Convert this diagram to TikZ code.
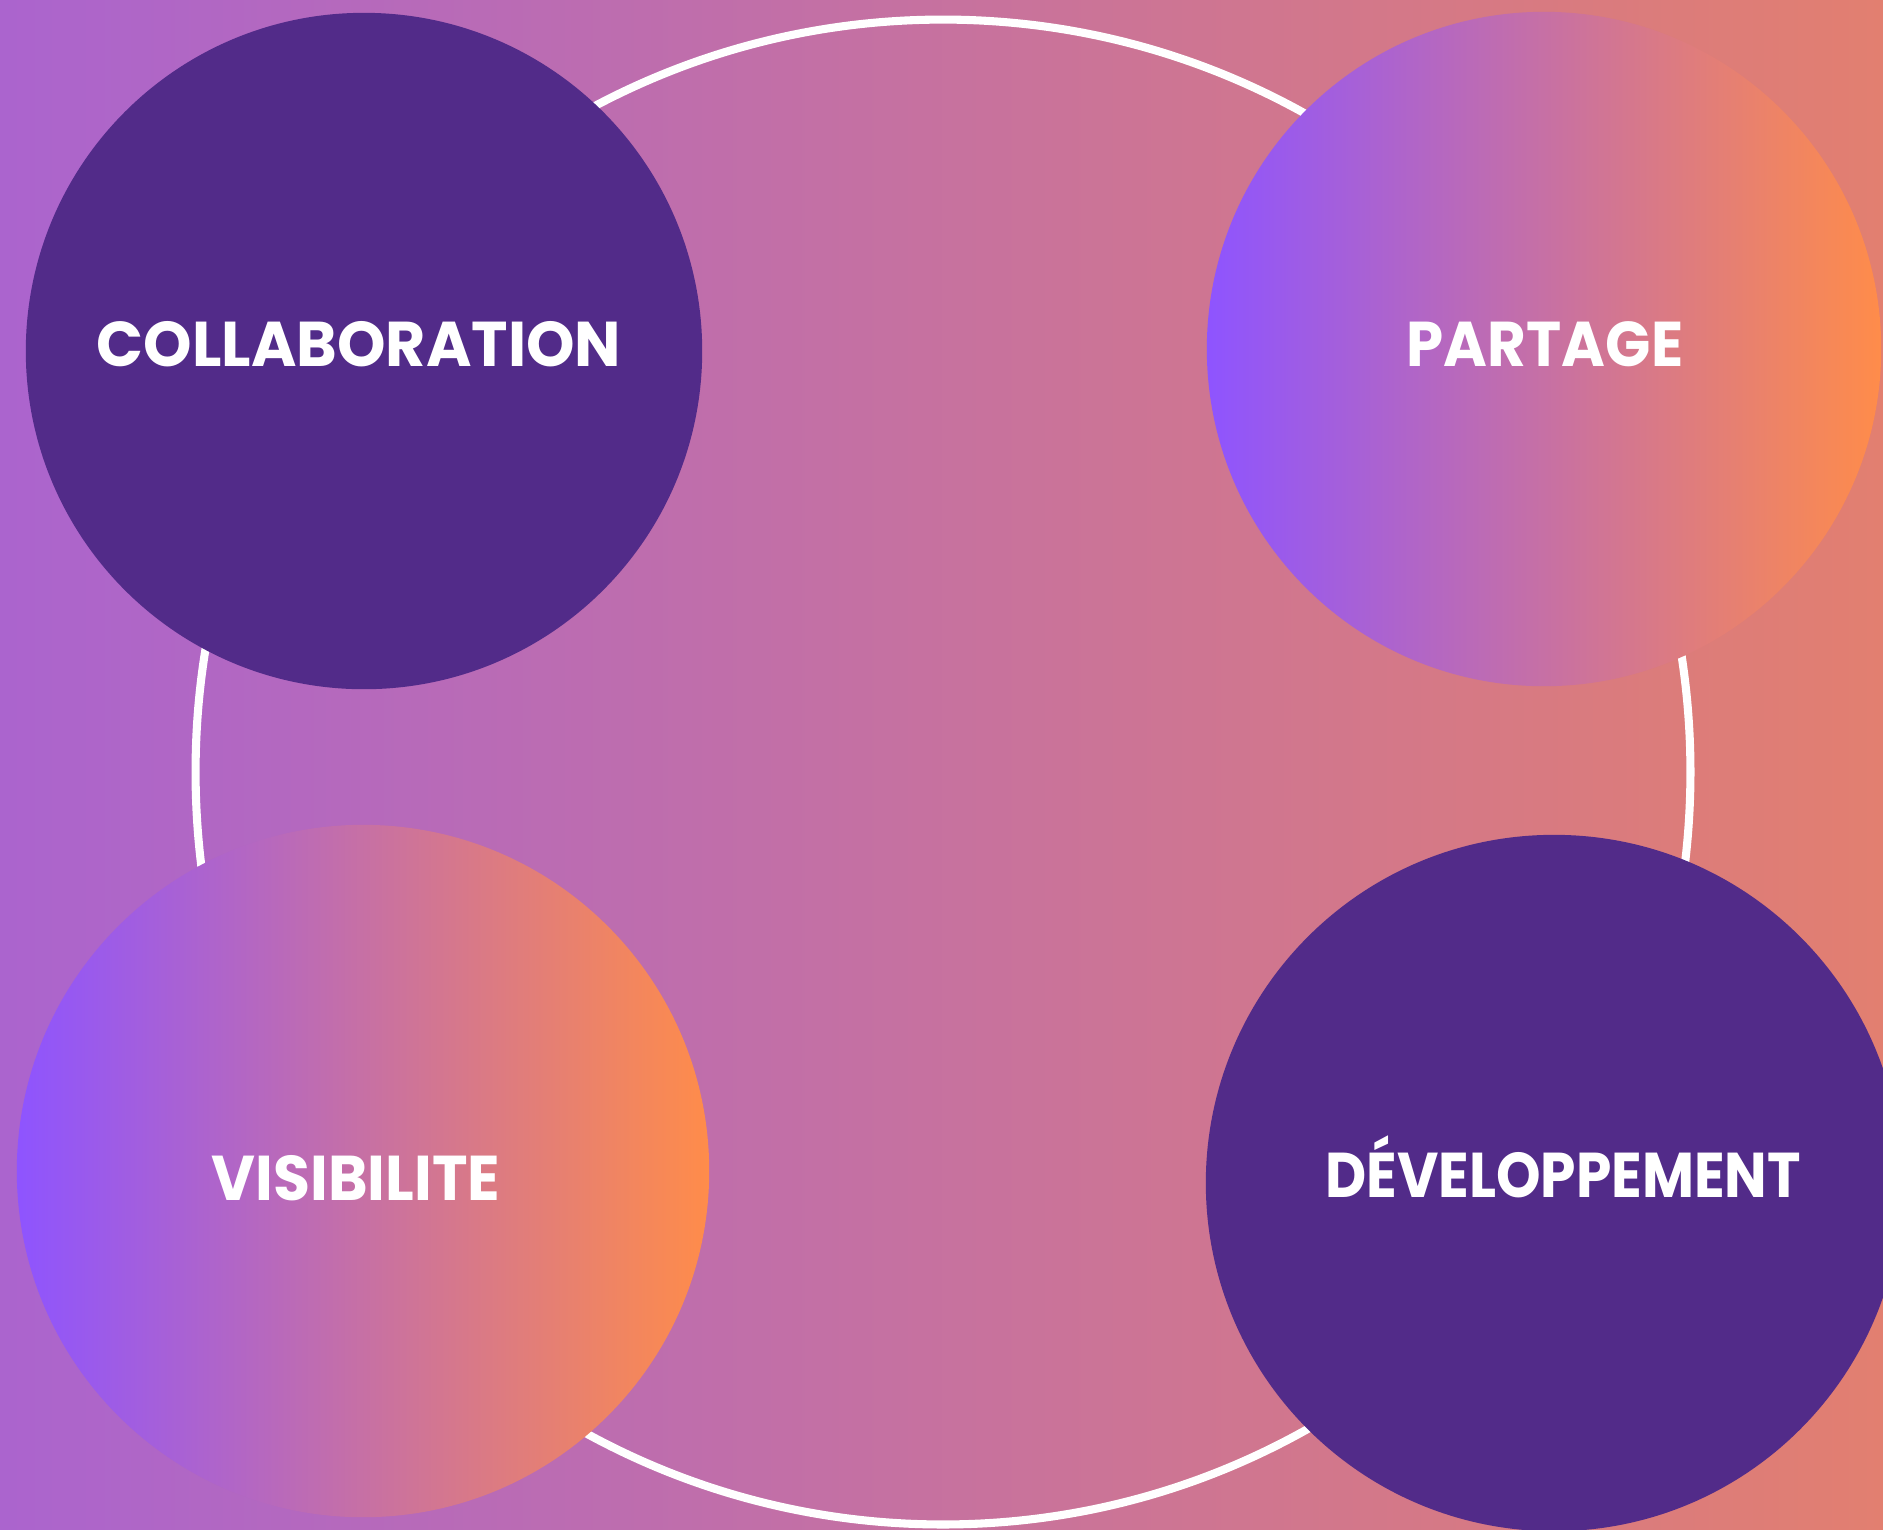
\documentclass[tikz,border=0pt]{standalone}
\usepackage{fontspec}
\setmainfont{Poppins}
\usetikzlibrary{positioning}
\definecolor{bgleft}{HTML}{AB64CE}
\definecolor{bgright}{HTML}{E27F70}
\definecolor{deep}{HTML}{522B89}
\definecolor{violet}{HTML}{8E54FF}
\definecolor{orange}{HTML}{FF8C4A}
\newcommand{\squeeze}[2]{\scalebox{#1}[1]{#2}}
\tikzset{
  bubble/.style={circle, inner sep=0pt},
  plain/.style={bubble, fill=deep},
  shaded/.style={bubble, left color=violet, right color=orange},
  word/.style={anchor=base, inner sep=0pt, text=white, font=\bfseries\fontsize{18}{20}\selectfont},
  ring/.style={draw=white, line width=2.3pt}
}
\begin{document}
\begin{tikzpicture}[x=0.01cm, y=-0.01cm]
  % background
  \fill[left color=bgleft, right color=bgright] (0,0) rectangle (1883,1529);
  \useasboundingbox (0,0) rectangle (1883,1529);
  % ring behind the bubbles
  \coordinate (mid) at (943,772);
  \draw[ring] (mid) ellipse [x radius=7.47cm, y radius=7.52cm];
  % bubbles
  \node[plain, minimum size=6.76cm] (collab) at (364,351) {};
  \node[shaded, minimum size=6.74cm] (partage) at (1544,349) {};
  \node[shaded, minimum size=6.92cm] (visib) at (363,1171) {};
  \node[plain, minimum size=6.96cm] (devel) at (1554,1183) {};
  % labels
  \node[word] (collabtxt) at (359,366) {\squeeze{0.975}{COLLABORATION}};
  \node[word] (partagetxt) at (1545,366) {\squeeze{0.94}{PARTAGE}};
  \node[word] (visibtxt) at (356,1200) {\squeeze{0.95}{VISIBILITE}};
  \node[word] (develtxt) at (1563,1197) {\squeeze{0.895}{DÉVELOPPEMENT}};
\end{tikzpicture}
\end{document}
